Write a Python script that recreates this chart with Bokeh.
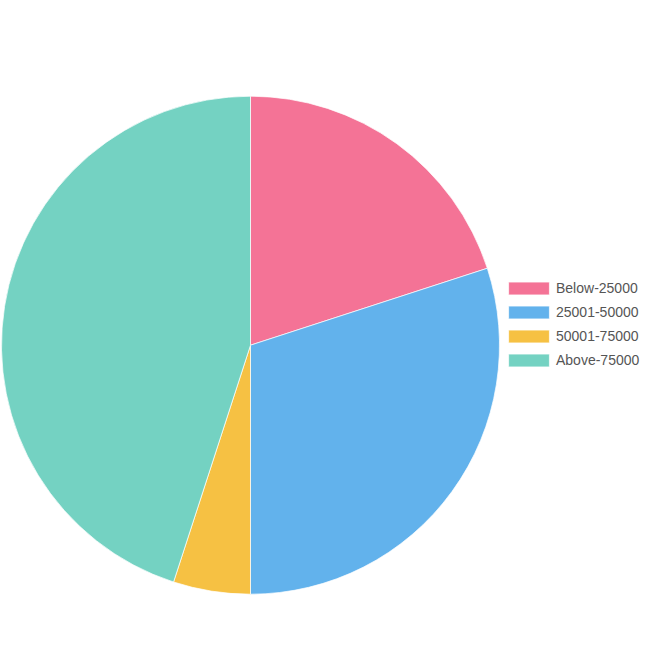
from math import pi

from bokeh.embed import file_html
from bokeh.models import ColumnDataSource, Legend, LegendItem, Range1d
from bokeh.plotting import figure
from bokeh.resources import INLINE

categories = ["Below-25000", "25001-50000", "50001-75000", "Above-75000"]
shares = [20, 30, 5, 45]
colors = ["#f47396", "#62b2ec", "#f6c143", "#74d2c2"]

total = float(sum(shares))
starts, ends = [], []
acc = 0.0
for v in shares:
    starts.append(pi / 2 - 2 * pi * acc / total)
    acc += v
    ends.append(pi / 2 - 2 * pi * acc / total)

src = ColumnDataSource(dict(cat=categories, val=shares, color=colors,
                            start=starts, end=ends))

p = figure(width=649, height=649, output_backend="svg",
           toolbar_location=None, min_border=0,
           x_range=Range1d(0, 649), y_range=Range1d(0, 649))
p.axis.visible = False
p.grid.visible = False
p.outline_line_color = None

r = p.wedge(x=250, y=304.3, radius=249, start_angle="start", end_angle="end",
            direction="clock", fill_color="color", line_color="white",
            line_width=0.7, source=src)

# legend glyphs are drawn at 80% of the glyph box
items = [LegendItem(label=c, renderers=[r], index=i)
         for i, c in enumerate(categories)]
legend = Legend(items=items, location=(503, 281), padding=0, margin=0,
                glyph_width=51, glyph_height=16, label_standoff=2,
                spacing=8, border_line_color=None,
                background_fill_alpha=0,
                label_text_font="Liberation Sans",
                label_text_font_size="14px", label_text_color="#555555")
p.add_layout(legend, "center")

open("out.html", "w").write(file_html(p, INLINE))
